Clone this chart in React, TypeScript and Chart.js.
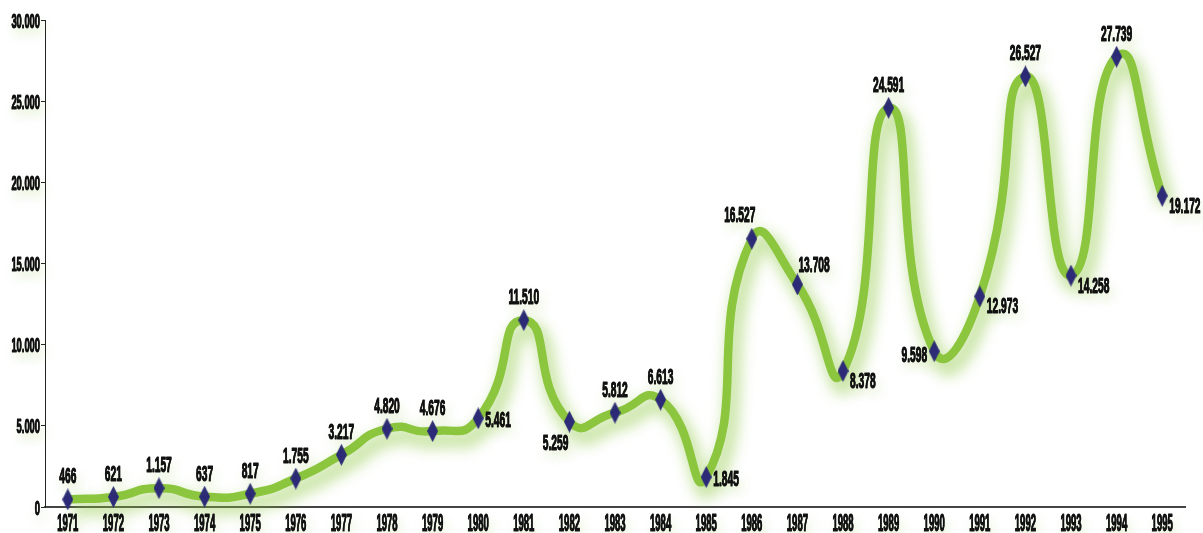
import React, { useEffect, useRef } from 'react';
import { Chart, registerables } from 'chart.js';

Chart.register(...registerables);

const years = ['1971', '1972', '1973', '1974', '1975', '1976', '1977', '1978', '1979', '1980', '1981', '1982', '1983', '1984', '1985', '1986', '1987', '1988', '1989', '1990', '1991', '1992', '1993', '1994', '1995'];
const values = [466, 621, 1157, 637, 817, 1755, 3217, 4820, 4676, 5461, 11510, 5259, 5812, 6613, 1845, 16527, 13708, 8378, 24591, 9598, 12973, 26527, 14258, 27739, 19172];
const yMin = 0;
const yMax = 30000;
const yStep = 5000;
const labelPlacement = ['above', 'above', 'above', 'above', 'above', 'above', 'above', 'above', 'above', 'right', 'above', 'below', 'above', 'above', 'right', 'aboveLeft', 'aboveRight', 'rightBelow', 'above', 'left', 'rightBelow', 'above', 'rightBelow', 'above', 'rightBelow'];

const fmt = (v: number) => Math.round(v).toString().replace(/\B(?=(\d{3})+(?!\d))/g, '.');

const FONT = "'Liberation Sans Narrow', 'Liberation Sans', Arial, sans-serif";
const GREEN = '#8cc63f';
const NAVY = '#2d2b78';
const TEXT = '#111111';

function drawCondensed(ctx: CanvasRenderingContext2D, text: string, x: number, y: number, size: number, digitW: number, align: 'left' | 'center' | 'right') {
  ctx.save();
  ctx.font = `bold ${size}px ${FONT}`;
  const sx = digitW / ctx.measureText('0').width;
  const w = ctx.measureText(text).width * sx;
  const left = align === 'left' ? x : align === 'center' ? x - w / 2 : x - w;
  ctx.translate(left, y);
  ctx.scale(sx, 1);
  ctx.textAlign = 'left';
  ctx.textBaseline = 'alphabetic';
  ctx.shadowColor = 'rgba(140,198,63,0.35)';
  ctx.shadowBlur = 12;
  ctx.shadowOffsetX = 3;
  ctx.shadowOffsetY = 7;
  ctx.fillStyle = TEXT;
  ctx.fillText(text, 0, 0);
  ctx.shadowColor = 'transparent';
  ctx.strokeStyle = TEXT;
  ctx.lineWidth = 1;
  ctx.lineJoin = 'round';
  ctx.strokeText(text, 0, 0);
  ctx.fillText(text, 0, 0);
  ctx.restore();
}

function makeDiamond(): HTMLCanvasElement {
  const c = document.createElement('canvas');
  c.width = 11;
  c.height = 22;
  const g = c.getContext('2d')!;
  g.fillStyle = NAVY;
  g.beginPath();
  g.moveTo(5.5, 0);
  g.lineTo(11, 11);
  g.lineTo(5.5, 22);
  g.lineTo(0, 11);
  g.closePath();
  g.fill();
  return c;
}

const glowPlugin = {
  id: 'glowPlugin',
  beforeDatasetDraw(chart: any, args: any) {
    if (args.index === 0) {
      const ctx = chart.ctx;
      ctx.save();
      ctx.filter = 'blur(7px)';
      ctx.translate(5, 9);
    }
  },
  afterDatasetDraw(chart: any, args: any) {
    if (args.index === 0) {
      chart.ctx.restore();
    }
  },
};

const textPlugin = {
  id: 'textPlugin',
  afterDraw(chart: any) {
    const ctx: CanvasRenderingContext2D = chart.ctx;
    const ys = chart.scales.y;
    const xs = chart.scales.x;
    ys.ticks.forEach((t: any, i: number) => {
      const py = ys.getPixelForTick(i);
      drawCondensed(ctx, fmt(t.value), 40, py + 7.5, 21, 5.2, 'right');
    });
    xs.ticks.forEach((t: any, i: number) => {
      const px = xs.getPixelForTick(i);
      drawCondensed(ctx, years[i], px, 531, 24, 5.3, 'center');
    });
    const meta = chart.getDatasetMeta(1);
    meta.data.forEach((el: any, i: number) => {
      const px = el.x;
      const py = el.y;
      const txt = fmt(values[i]);
      const p = labelPlacement[i];
      const S = 22;
      const D = 5.7;
      if (p === 'above') drawCondensed(ctx, txt, px, py - 16, S, D, 'center');
      else if (p === 'aboveLeft') drawCondensed(ctx, txt, px - 12, py - 17, S, D, 'center');
      else if (p === 'aboveRight') drawCondensed(ctx, txt, px + 1, py - 12, S, D, 'left');
      else if (p === 'right') drawCondensed(ctx, txt, px + 7, py + 9, S, D, 'left');
      else if (p === 'rightBelow') drawCondensed(ctx, txt, px + 7, py + 17, S, D, 'left');
      else if (p === 'below') drawCondensed(ctx, txt, px - 1, py + 28, S, D, 'right');
      else if (p === 'left') drawCondensed(ctx, txt, px - 7, py + 11, S, D, 'right');
    });
  },
};

export default function App() {
  const ref = useRef<HTMLCanvasElement | null>(null);
  useEffect(() => {
    document.body.style.margin = '0';
    document.body.style.background = '#ffffff';
    const canvas = ref.current!;
    const diamond = makeDiamond();
    const chart = new Chart(canvas, {
      type: 'line',
      data: {
        labels: years,
        datasets: [
          {
            data: values,
            borderColor: 'rgba(140,198,63,0.45)',
            borderWidth: 17,
            pointRadius: 0,
            tension: 0.6,
            clip: false as any,
            order: 2,
          },
          {
            data: values,
            borderColor: GREEN,
            borderWidth: 8.5,
            borderCapStyle: 'round',
            borderJoinStyle: 'round',
            tension: 0.6,
            pointStyle: diamond as any,
            pointRadius: 10,
            pointBackgroundColor: NAVY,
            pointBorderWidth: 0,
            clip: false as any,
            order: 1,
          },
        ],
      },
      options: {
        animation: false,
        responsive: false,
        maintainAspectRatio: false,
        layout: { padding: { top: 20, right: 18, left: 0, bottom: 0 } },
        plugins: { legend: { display: false }, tooltip: { enabled: false } },
        scales: {
          x: {
            offset: true,
            ticks: { display: false, autoSkip: false },
            grid: { display: true, drawOnChartArea: false, drawTicks: false, color: 'transparent' },
            border: { display: true, color: '#444444', width: 2 },
            afterFit: (s: any) => { s.height = 26; },
          },
          y: {
            min: yMin,
            max: yMax,
            ticks: { display: false, stepSize: yStep },
            grid: { display: true, drawOnChartArea: false, drawTicks: true, tickLength: 4, color: '#222222', lineWidth: 1 },
            border: { display: true, color: '#222222', width: 1 },
            afterFit: (s: any) => { s.width = 45; },
          },
        },
      },
      plugins: [glowPlugin, textPlugin],
    });
    return () => chart.destroy();
  }, []);
  return (
    <div style={{ width: 1203, height: 533 }}>
      <canvas ref={ref} width={1203} height={533} style={{ display: 'block', width: 1203, height: 533 }} />
    </div>
  );
}
